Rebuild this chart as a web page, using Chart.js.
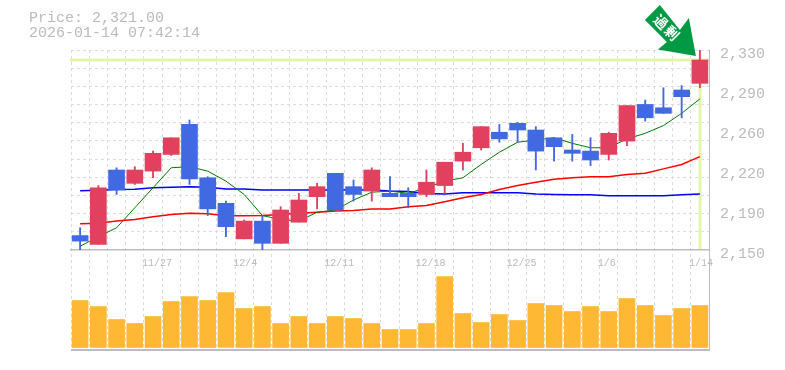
<!DOCTYPE html>
<html>
<head>
<meta charset="utf-8">
<style>html,body{margin:0;padding:0;background:#fff}canvas{display:block}</style>
<script src="https://cdn.jsdelivr.net/npm/chart.js@4"></script>
</head>
<body>
<canvas id="c" width="785" height="370"></canvas>
<script>
const categories = ['11/20','11/21','11/25','11/26','11/27','11/28','12/1','12/2','12/3','12/4','12/5','12/8','12/9','12/10','12/11','12/12','12/15','12/16','12/17','12/18','12/19','12/22','12/23','12/24','12/25','12/26','12/29','12/30','1/5','1/6','1/7','1/8','1/9','1/13','1/14'];
const shownDates = ['11/27','12/4','12/11','12/18','12/25','1/6','1/14'];
const opens  = [2163,2155,2222,2210,2221,2236,2263,2215,2192,2160,2176,2156,2175,2198,2219,2207,2203,2201,2201,2200,2208,2230,2242,2256,2264,2258,2251,2240,2239,2236,2248,2281,2278,2294,2300];
const closes = [2158,2206,2204,2222,2237,2251,2214,2187,2171,2176,2156,2186,2195,2207,2186,2200,2222,2198,2198,2211,2229,2238,2261,2250,2258,2239,2243,2237,2231,2255,2280,2269,2273,2288,2321];
const highs  = [2170,2208,2224,2225,2239,2251,2267,2216,2194,2177,2181,2189,2201,2210,2219,2213,2224,2216,2206,2222,2229,2246,2261,2263,2265,2261,2251,2254,2251,2256,2280,2285,2296,2298,2330];
const lows   = [2150,2155,2200,2209,2215,2235,2209,2181,2162,2160,2150,2156,2175,2187,2186,2194,2194,2198,2188,2198,2201,2222,2240,2247,2247,2222,2230,2230,2226,2231,2244,2266,2273,2269,2296];
const volumes = [47,41,28,24,31,46,51,47,55,39,41,24,31,24,31,29,24,18,18,24,71,34,25,33,27,44,42,36,41,36,49,42,32,39,42];
const maShort = [2153.4,2162,2170,2188,2206,2224,2225,2221,2212,2200,2181,2177.5,2176,2184,2186,2195,2202,2203,2201,2206,2212,2215,2227,2238,2247,2249,2251,2246,2242,2242,2250,2255,2262,2273,2286];
const maMid = [2173.6,2174,2176,2177.5,2180,2182,2183,2182.6,2180.8,2180.8,2181,2182,2183,2184,2185,2185.5,2187,2187,2189,2190,2193.4,2197,2200,2204.5,2208,2211,2213.7,2215,2216,2216,2218,2219,2223,2227,2234];
const maLong = [2203.3,2203.8,2204.5,2204.7,2206,2206.5,2207,2206.5,2205,2205,2204,2204,2204,2204,2204,2204,2204,2203,2202.6,2200.8,2200.5,2201.5,2201.5,2201.5,2201.5,2200.5,2200,2199.7,2199.7,2198.8,2198.8,2198.8,2198.8,2199.7,2200.5];
const priceTicks = [2150,2186,2222,2258,2294,2330];
const priceTickLabels = ['2,150','2,190','2,220','2,260','2,290','2,330'];
const priceGrid = [2166.36,2182.73,2199.09,2215.45,2231.82,2248.18,2264.55,2280.91,2297.27,2313.64,2330];
const headerLines = ['Price: 2,321.00','2026-01-14 07:42:14'];
const badgeText = ['過','剰'];
const lastPrice = 2321;

const UP='#E2405F', DOWN='#4169E1', GRID='#dcdcdc', AXIS='#bdbdbd', TXT='#bbbbbb', LIME='#E3F5A6', VOL='#FFB833', BADGE='#009944';
const candleColors = closes.map((c,i)=> c>=opens[i] ? UP : DOWN);

const overlay = {
  id:'overlay',
  beforeDatasetsDraw(chart){
    const {ctx,chartArea:a,scales}=chart;
    const y=scales.y.getPixelForValue(lastPrice), x=scales.x.getPixelForValue(categories.length-1);
    ctx.save();
    ctx.fillStyle=LIME;
    ctx.fillRect(a.left-1,Math.round(y)-1.5,a.right-a.left+2,3);
    ctx.fillRect(Math.round(x)-1.5,Math.round(y),3,scales.y.bottom-1-Math.round(y));
    ctx.restore();
  },
  afterDraw(chart){
    const {ctx,scales,chartArea:a}=chart;
    ctx.save();
    ctx.fillStyle=AXIS;
    ctx.fillRect(a.right,a.top,1,a.bottom-a.top+1);
    ctx.fillStyle=TXT;
    ctx.font='15px "Liberation Mono"';
    ctx.textBaseline='middle';
    ctx.textAlign='left';
    headerLines.forEach((t,i)=>ctx.fillText(t,29,18.5+15*i));
    const tx=scales.x.getPixelForValue(categories.length-1)-4;
    const ty=scales.y.getPixelForValue(lastPrice)-4;
    const pts=[[0,0],[-38,-6.5],[-29,-14],[-51,-36],[-36,-51],[-16,-26],[-7,-38]];
    ctx.fillStyle=BADGE;
    ctx.beginPath();
    pts.forEach((p,i)=> i? ctx.lineTo(tx+p[0],ty+p[1]) : ctx.moveTo(tx+p[0],ty+p[1]));
    ctx.closePath();ctx.fill();
    ctx.fillStyle='#fff';
    ctx.font='bold 14px "Noto Sans CJK JP"';
    ctx.textAlign='center';
    [[-35,-34],[-24,-23]].forEach((o,i)=>{
      ctx.save();ctx.translate(tx+o[0],ty+o[1]);ctx.rotate(Math.PI/4);
      ctx.fillText(badgeText[i],0,0);ctx.restore();
    });
    ctx.restore();
  }
};

new Chart(document.getElementById('c'),{
  data:{
    labels:categories,
    datasets:[
      {type:'line',data:maLong,borderColor:'#0000ff',borderWidth:1.5,pointRadius:0,yAxisID:'y',xAxisID:'x',order:5},
      {type:'line',data:maMid,borderColor:'#ff0000',borderWidth:1.5,pointRadius:0,yAxisID:'y',xAxisID:'x',order:4},
      {type:'line',data:maShort,borderColor:'#007a00',borderWidth:1,pointRadius:0,yAxisID:'y',xAxisID:'x',order:3},
      {type:'bar',data:highs.map((h,i)=>[lows[i],h]),backgroundColor:candleColors,barThickness:1.2,grouped:false,yAxisID:'y',xAxisID:'x',order:2},
      {type:'bar',data:opens.map((o,i)=>[o,closes[i]]),backgroundColor:candleColors,barThickness:16,grouped:false,yAxisID:'y',xAxisID:'x',order:1},
      {type:'bar',data:volumes,backgroundColor:VOL,barThickness:16,grouped:false,yAxisID:'y1',xAxisID:'x',order:0}
    ]
  },
  options:{
    responsive:false,animation:false,
    devicePixelRatio:1,
    layout:{padding:{left:71,top:50,right:0,bottom:20}},
    plugins:{legend:{display:false},tooltip:{enabled:false},title:{display:false}},
    scales:{
      x:{
        type:'category',offset:true,
        position:{y1:97.5},
        grid:{color:GRID,lineWidth:1,offset:true,drawTicks:false},
        border:{color:AXIS,width:1.5,dash:[3,3]},
        ticks:{autoSkip:false,maxRotation:0,minRotation:0,align:'start',labelOffset:-11,padding:7,color:TXT,
          font:{family:'"Liberation Mono"',size:10},
          callback(v){const l=categories[v];return shownDates.includes(l)?l:'';}}
      },
      y:{
        type:'linear',position:'right',stack:'main',stackWeight:2,min:2150,max:2330,
        afterBuildTicks(s){
          const all=[...new Set([...priceTicks,...priceGrid])].sort((a,b)=>a-b);
          s.ticks=all.map(value=>({value}));
        },
        afterFit(s){s.width=76;},
        grid:{drawTicks:false,lineWidth:1,
          color(ctx){const v=ctx.tick&&ctx.tick.value;return priceGrid.includes(v)?GRID:'rgba(0,0,0,0)';}},
        border:{color:AXIS,width:1,dash:[3,3]},
        ticks:{autoSkip:false,padding:11,labelOffset:4,color:TXT,
          font:{family:'"Liberation Mono"',size:15},
          callback(v){const i=priceTicks.indexOf(v);return i>=0?priceTickLabels[i]:'';}}
      },
      y1:{
        type:'linear',position:'right',stack:'main',stackWeight:1,min:-2.5,max:97.5,
        afterBuildTicks(s){s.ticks=[{value:-2.5}];},
        afterFit(s){s.width=76;},
        grid:{drawTicks:false,color:AXIS,lineWidth:2},
        border:{color:AXIS,width:1},
        ticks:{display:false}
      }
    }
  },
  plugins:[overlay]
});
</script>
</body>
</html>
